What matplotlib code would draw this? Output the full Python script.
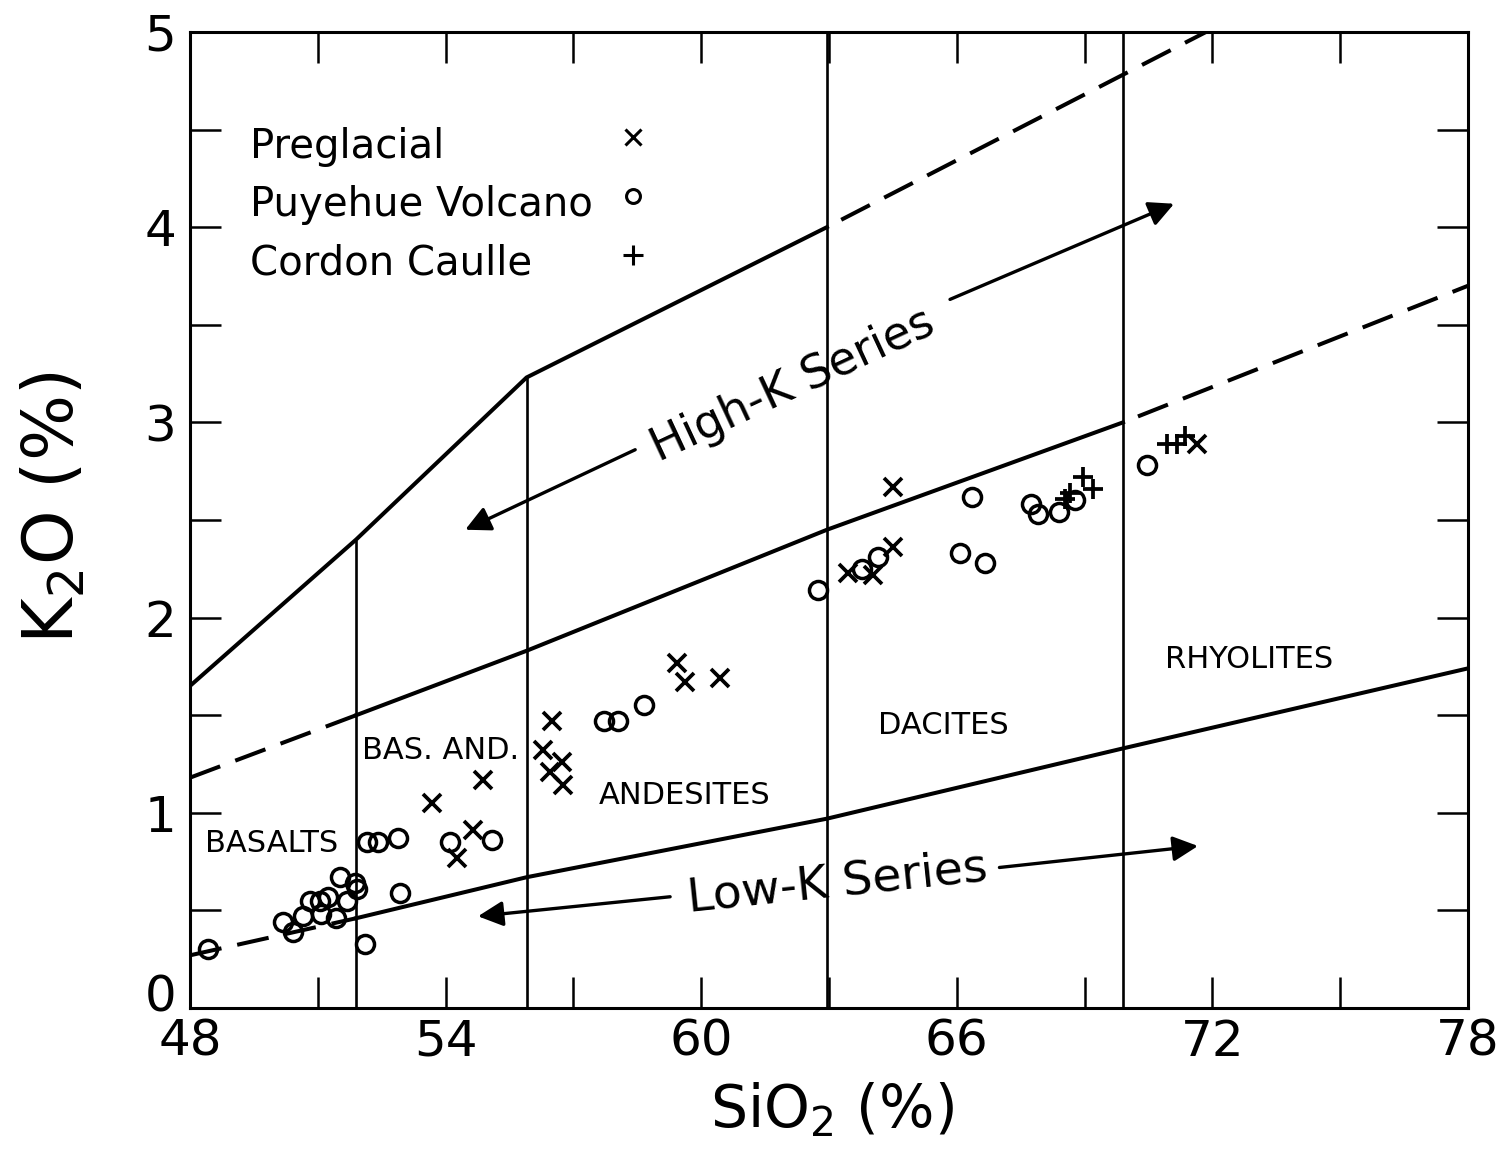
import numpy as np
import matplotlib.pyplot as plt
import matplotlib.transforms as mtransforms
from matplotlib.ticker import MultipleLocator, FixedLocator

# --- data ---
pre_sio2 = [53.68, 54.27, 54.64, 54.88, 56.29, 56.45, 56.50, 56.73, 56.76,
            59.43, 59.62, 60.44, 63.45, 64.03, 64.50, 64.50, 71.64]
pre_k2o = [1.05, 0.77, 0.91, 1.17, 1.32, 1.21, 1.47, 1.26, 1.14,
           1.77, 1.67, 1.69, 2.23, 2.22, 2.36, 2.67, 2.89]

puy_sio2 = [48.42, 50.18, 50.42, 50.65, 50.82, 51.05, 51.24, 51.08, 51.43,
            51.52, 51.69, 51.87, 51.92, 52.10, 52.15, 52.42, 52.88, 52.93,
            54.10, 55.08, 57.72, 58.05, 58.66, 62.75, 63.78, 64.15,
            66.36, 66.08, 66.66, 67.74, 67.90, 68.40, 68.77, 70.46]
puy_k2o = [0.30, 0.44, 0.39, 0.47, 0.55, 0.55, 0.57, 0.48, 0.46,
           0.67, 0.55, 0.64, 0.61, 0.33, 0.85, 0.85, 0.87, 0.59,
           0.85, 0.86, 1.47, 1.47, 1.55, 2.14, 2.25, 2.31,
           2.62, 2.33, 2.28, 2.58, 2.53, 2.54, 2.60, 2.78]

cc_sio2 = [68.54, 68.66, 68.96, 69.20, 70.93, 71.17, 71.36]
cc_k2o = [2.61, 2.64, 2.72, 2.66, 2.89, 2.89, 2.93]

# field boundaries
hi_x = [48, 51.9, 55.9, 62.95]
hi_y = [1.65, 2.40, 3.23, 4.00]
hi_dash_x = [62.95, 71.85]
hi_dash_y = [4.00, 5.00]

mid_dash1_x = [48, 51.9]
mid_dash1_y = [1.18, 1.50]
mid_x = [51.9, 55.9, 62.95, 69.9]
mid_y = [1.50, 1.83, 2.45, 3.00]
mid_dash2_x = [69.9, 78]
mid_dash2_y = [3.00, 3.70]

low_dash_x = [48, 51.9]
low_dash_y = [0.27, 0.46]
low_x = [51.9, 55.9, 62.95, 69.9, 78]
low_y = [0.46, 0.67, 0.97, 1.33, 1.74]

div_x = [51.9, 55.9, 62.95, 69.9]
div_top = [2.40, 3.23, 5.0, 5.0]

fields = ['BASALTS', 'BAS. AND.', 'ANDESITES', 'DACITES', 'RHYOLITES']
field_x = [49.92, 53.88, 59.60, 65.68, 72.86]
field_y = [0.80, 1.275, 1.045, 1.404, 1.742]

legend_labels = ['Preglacial', 'Puyehue Volcano', 'Cordon Caulle']

x_ticks = [48, 54, 60, 66, 72, 78]
y_ticks = [0, 1, 2, 3, 4, 5]

# --- figure ---
fig = plt.figure(figsize=(15.02, 11.62), dpi=100)
ax = fig.add_axes([0.1265, 0.1325, 0.8509, 0.84])
ax.set_xlim(48, 78)
ax.set_ylim(0, 5)

k = 'black'
ax.plot(hi_x, hi_y, color=k, lw=2.9)
ax.plot(hi_dash_x, hi_dash_y, color=k, lw=2.9, linestyle=(8, (8, 4)))
ax.plot(mid_dash1_x, mid_dash1_y, color=k, lw=2.9, linestyle=(0, (8, 4)))
ax.plot(mid_x, mid_y, color=k, lw=2.9)
ax.plot(mid_dash2_x, mid_dash2_y, color=k, lw=2.9, linestyle=(8, (8, 4)))
ax.plot(low_dash_x, low_dash_y, color=k, lw=2.9, linestyle=(0, (8, 4)))
ax.plot(low_x, low_y, color=k, lw=2.9)
ax.vlines(div_x, 0, div_top, color=k, lw=1.9)

ax.plot(puy_sio2, puy_k2o, 'o', ms=13, mfc='none', mec=k, mew=2.5)
ax.plot(pre_sio2, pre_k2o, 'x', ms=13.5, mec=k, mew=2.7)
ax.plot(cc_sio2, cc_k2o, '+', ms=15, mec=k, mew=2.7)

for name, fx, fy in zip(fields, field_x, field_y):
    ax.text(fx, fy, name, fontsize=22, ha='center', va='baseline')

# series arrows
arrow = dict(arrowstyle='-|>', lw=2.4, color=k, mutation_scale=38, shrinkA=0, shrinkB=0)
ax.annotate('', xy=(54.46, 2.45), xytext=(58.45, 2.86), arrowprops=arrow)
ax.annotate('', xy=(71.10, 4.12), xytext=(65.84, 3.63), arrowprops=arrow)
ax.text(62.15, 3.19, 'High-K Series', fontsize=33, rotation=25,
        ha='center', va='center', rotation_mode='anchor')
ax.annotate('', xy=(54.76, 0.47), xytext=(59.27, 0.57), arrowprops=arrow)
ax.annotate('', xy=(71.66, 0.83), xytext=(67.00, 0.72), arrowprops=arrow)
ax.text(63.21, 0.64, 'Low-K Series', fontsize=34, rotation=6,
        ha='center', va='center', rotation_mode='anchor')

# legend drawn by hand: text left, symbol column on the right
leg_markers = [('x', 12), ('o', 10), ('+', 15)]
for i, (lab, (m, s)) in enumerate(zip(legend_labels, leg_markers)):
    ax.text(0.047, 0.871 - i * 0.06, lab, transform=ax.transAxes,
            fontsize=29, ha='left', va='baseline')
    ax.plot([0.3466], [0.892 - i * 0.0605], m, transform=ax.transAxes,
            ms=s, mfc='none', mec=k, mew=2.2, clip_on=False)

# axes styling
for sp in ax.spines.values():
    sp.set_linewidth(2.2)
ax.xaxis.set_major_locator(FixedLocator(x_ticks))
ax.xaxis.set_minor_locator(MultipleLocator(3))
ax.yaxis.set_major_locator(FixedLocator(y_ticks))
ax.yaxis.set_minor_locator(MultipleLocator(0.5))
ax.tick_params(which='both', direction='in', length=22, width=1.8,
               top=True, right=True)
ax.tick_params(axis='x', labelsize=36, pad=7)
ax.tick_params(axis='y', labelsize=36, pad=10)

# nudge the "0" label up, as in the original, so it clears the "48"
zero_lab = ax.yaxis.get_major_ticks()[0].label1
zero_lab.set_transform(zero_lab.get_transform() +
                       mtransforms.ScaledTranslation(0, 11 / 72, fig.dpi_scale_trans))

ax.set_xlabel('SiO$_2$ (%)', fontsize=42)
ax.xaxis.set_label_coords(0.502, -0.075)
ax.set_ylabel('K$_2$O (%)', fontsize=50)
ax.yaxis.set_label_coords(-0.08, 0.512)

fig.savefig('out.png', dpi=100, facecolor='white')
